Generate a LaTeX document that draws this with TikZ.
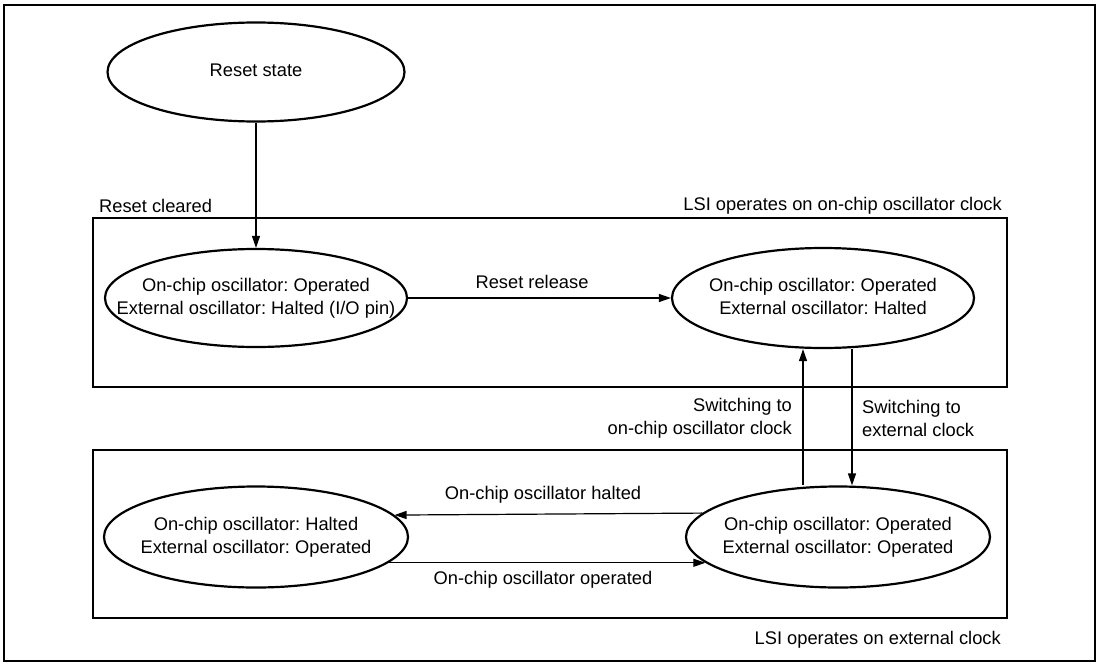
\documentclass[tikz,border=0pt]{standalone}
\usepackage{fontspec}
\setmainfont{Liberation Sans}
\usetikzlibrary{arrows.meta,shapes.geometric}
\newcommand{\ztext}[1]{\makebox[0pt]{\begin{tabular}{@{}c@{}}#1\end{tabular}}}
\begin{document}
\begin{tikzpicture}[x=1pt,y=-1pt,
  every node/.style={font=\fontsize{18.3}{23}\selectfont\frenchspacing},
  state/.style={ellipse,draw,line width=2.2pt,inner sep=0pt},
  group/.style={draw,line width=2.4pt},
  arr/.style={-{Triangle[length=12pt,width=8pt]},line width=1.2pt},
  lbl/.style={inner sep=0pt}]
\useasboundingbox (0,0) rectangle (1100,664);
\draw[line width=2pt] (4,5) rectangle (1095,661);
\draw[group] (93,218) rectangle (1007,387);
\draw[group] (93,450) rectangle (1007,618);
\node[state,minimum width=297pt,minimum height=99pt] (rs) at (256,72) {\ztext{Reset state}};
\node[state,minimum width=302pt,minimum height=98pt] (tl) at (256,298) {\ztext{On-chip oscillator: Operated\\External oscillator: Halted (I/O pin)}};
\node[state,minimum width=302pt,minimum height=100pt] (tr) at (823,298) {\ztext{On-chip oscillator: Operated\\External oscillator: Halted}};
\node[state,minimum width=304pt,minimum height=101pt] (bl) at (256,537) {\ztext{On-chip oscillator: Halted\\External oscillator: Operated}};
\node[state,minimum width=304pt,minimum height=101pt] (br) at (838,537) {\ztext{On-chip oscillator: Operated\\External oscillator: Operated}};
\coordinate (upx) at (803,0);
\coordinate (dnx) at (852,0);
\draw[arr] (rs.south) -- (tl.north);
\draw[arr] (tl.east) -- (tr.west);
\draw[arr] (br.north -| upx) -- (tr.south -| upx);
\draw[arr] (tr.south -| dnx) -- (br.north -| dnx);
\draw[arr] (br.170.27) -- (bl.9.73);
\draw[arr] (bl.-11.4) -- (br.191.4);
\node[lbl,anchor=west] (rc) at (99,206) {Reset cleared};
\node[lbl,anchor=east] (lsi1) at (1002,206) {LSI operates on on-chip oscillator clock};
\node[lbl] (rr) at (532,282) {Reset release};
\node[lbl,anchor=east,align=right] (sw1) at (792,418) {Switching to\\on-chip oscillator clock};
\node[lbl,anchor=west,align=left] (sw2) at (862,418) {Switching to\\external clock};
\node[lbl] (oh) at (543,495) {On-chip oscillator halted};
\node[lbl] (oo) at (543,580) {On-chip oscillator operated};
\node[lbl,anchor=east] (lsi2) at (1001,640) {LSI operates on external clock};
\end{tikzpicture}
\end{document}
